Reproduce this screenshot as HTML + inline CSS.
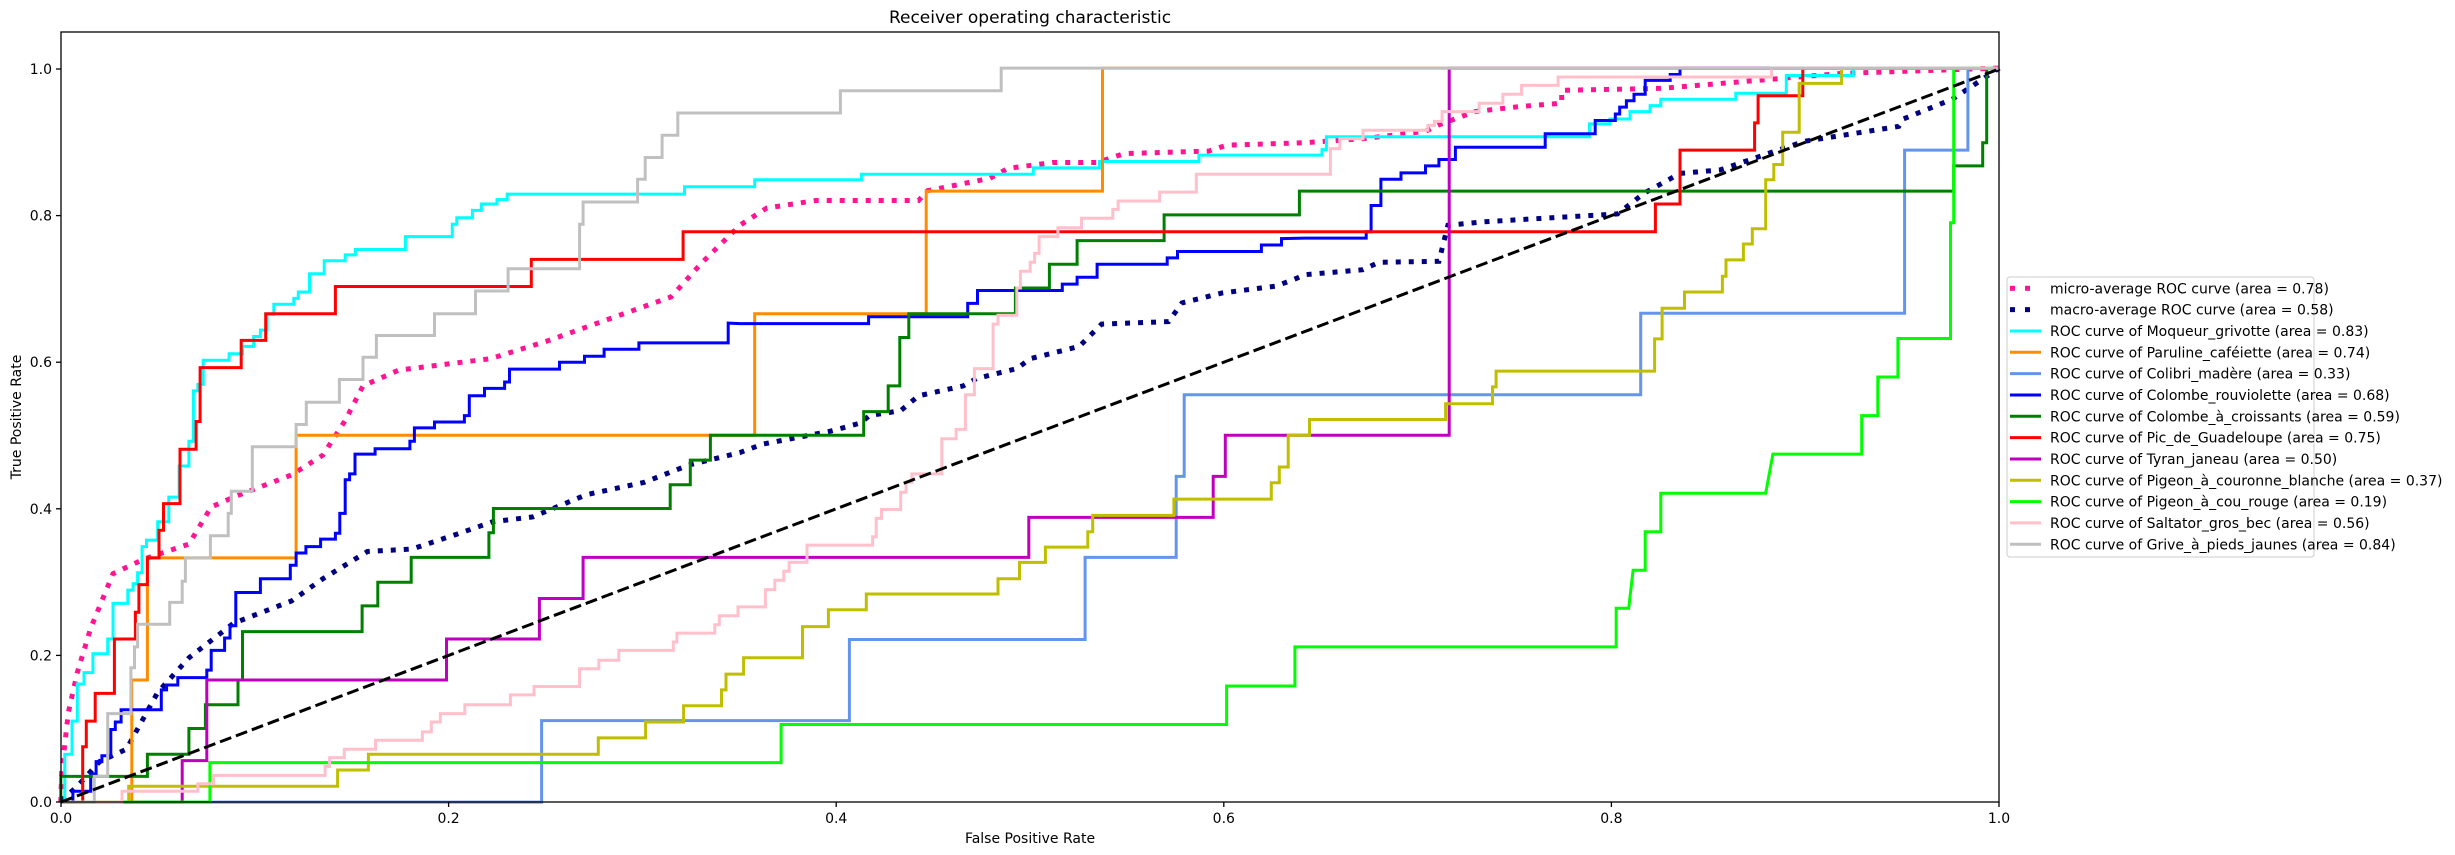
<!DOCTYPE html>
<html><head><meta charset="utf-8"><style>
html,body{margin:0;padding:0;background:#fff;}
svg{display:block;font-family:"DejaVu Sans","Liberation Sans",sans-serif;}
</style></head><body>
<svg id="s" width="2455" height="855" viewBox="0 0 2455 855" xmlns="http://www.w3.org/2000/svg">
<rect width="2455" height="855" fill="#fff"/>
<g id="lines" fill="none" stroke-linejoin="miter"></g>
<line x1="61" y1="802" x2="1999" y2="69" stroke="#000" stroke-width="3" stroke-dasharray="12 5"/>
<rect x="61" y="32" width="1938" height="770" fill="none" stroke="#000" stroke-width="1.3"/>
<g id="ticks" stroke="#000" stroke-width="1.3"></g>
<g id="tl" font-size="14" fill="#000"></g>
<text x="1030" y="23" font-size="17" text-anchor="middle">Receiver operating characteristic</text>
<text x="1030" y="843" font-size="14" text-anchor="middle">False Positive Rate</text>
<text transform="translate(21,417) rotate(-90)" font-size="14" text-anchor="middle">True Positive Rate</text>
<rect x="2007" y="277" width="307" height="280" rx="3" fill="#fff" fill-opacity="0.8" stroke="#cccccc" stroke-width="1"/>
<g id="leg" font-size="14"></g>
</svg>
<script>
const OX=[55,740,1305];
function conv(segs){const pts=[];for(const [z,s] of segs){s.trim().split(/\s+/).forEach(p=>{const [a,b]=p.split(',').map(Number);pts.push((OX[z]+a/2.24).toFixed(1)+','+(30+b/2.023).toFixed(1));});}return pts.join(' ');}
const C={
micro:[[0,"13,1562 15,1500 30,1380 50,1300 80,1210 130,1100 200,1070 300,1040 350,965 400,945 530,900 600,860 650,790 690,720 770,688 975,665 1100,630 1380,540 1450,470 1534,395"],[1,"60,360 170,345 400,345 420,325 560,300 600,280 700,268 800,268 860,250 1050,245 1090,233"],[2,"0,228 130,220 270,205 300,192 380,165 480,155 575,148 575,122 800,118 1000,103 1200,88 1555,77"]],
macro:[[0,"13,1560 50,1530 100,1480 160,1455 230,1340 300,1270 400,1200 530,1155 600,1110 700,1055 800,1050 900,1020 980,995 1070,985 1190,940 1320,915 1420,880 1534,855"],[1,"50,838 200,812 230,805 270,795 290,780 360,770 400,740 500,720 530,705 620,685 650,665 760,640 810,595 960,590 990,552 1080,532 1200,518 1240,505"],[2,"0,495 130,485 165,470 300,468 320,395 400,388 700,372 760,330 840,290 930,283 1060,243 1120,225 1330,195 1340,180 1450,140 1555,77"]],
cyan:[[0,"13,1562 22,1562 22,1465 38,1465 38,1398 50,1398 50,1323 65,1323 65,1300 85,1300 85,1262 118,1262 118,1232 130,1232 130,1160 163,1160 163,1133 175,1133 175,1120 185,1120 185,1098 195,1098 195,1045 205,1045 205,1032 230,1032 230,995 255,995 255,945 278,945 278,882 300,882 300,832 310,832 310,730 320,730 320,717 332,717 332,668 390,668 390,655 420,655 420,640 445,640 445,620 460,620 460,607 475,607 475,575 490,575 490,555 535,555 535,543 545,543 545,530 570,530 570,493 603,493 603,467 650,467 650,455 673,455 673,444 785,444 785,418 890,418 890,393 900,393 900,380 935,380 935,365 955,365 955,352 990,352 990,343 1013,343 1013,332 1410,332 1410,317"],[1,"0,317 33,317 33,303 272,303 272,292 657,292 657,279 805,279 805,266 1028,266 1028,253"],[2,"0,253 38,253 38,242 48,242 48,216 637,216 637,190 683,190 683,180 728,180 728,165 773,165 773,153 797,153 797,140 965,140 965,128 1078,128 1078,92 1228,92 1228,77 1555,77"]],
orange:[[0,"13,1562 172,1562 172,1315 207,1315 207,1068 540,1068 540,820"],[1,"0,820 33,820 33,574 417,574 417,326 812,326 812,77 1568,77"],[2,"1555,77"]],
corn:[[0,"13,1562 1090,1562 1090,1397"],[1,"0,1397 245,1397 245,1233 773,1233 773,1067 977,1067 977,903 995,903 995,738"],[2,"752,738 752,573 1343,573 1343,243 1485,243 1485,77 1555,77"]],
blue:[[0,"13,1562 40,1562 40,1540 80,1540 80,1505 92,1505 92,1480 105,1480 105,1468 125,1468 125,1415 135,1415 135,1400 148,1400 148,1375 238,1375 238,1335 250,1335 250,1325 275,1325 275,1310 340,1310 340,1295 350,1295 350,1255 380,1255 380,1230 392,1230 392,1205 405,1205 405,1138 460,1138 460,1110 527,1110 527,1083 540,1083 540,1058 562,1058 562,1045 595,1045 595,1030 628,1030 628,1018 638,1018 638,978 650,978 650,910 660,910 660,898 672,898 672,858 717,858 717,847 795,847 795,832 805,832 805,805 850,805 850,793 917,793 917,780 928,780 928,740 962,740 962,725 1007,725 1007,712 1018,712 1018,686 1130,686 1130,672 1186,672 1186,660 1230,660 1230,646 1308,646 1308,633 1508,633 1508,593"],[1,"0,594 288,594 288,580 510,580 510,553 532,553 532,527 722,527 722,514 755,514 755,500 800,500 800,474 957,474 957,461 980,461 980,448 1168,448 1168,435 1213,435 1213,422"],[2,"0,421 137,421 137,408 148,408 148,355 170,355 170,302 215,302 215,289 270,289 270,275 300,275 300,262 337,262 337,237 538,237 538,210 650,210 650,183 695,183 695,170 705,170 705,156 720,156 720,143 737,143 737,130 762,130 762,102 818,102 818,90 840,90 840,77 1555,77"]],
green:[[0,"13,1562 13,1510 207,1510 207,1465 300,1465 300,1413 337,1413 337,1365 410,1365 410,1315 420,1315 420,1217 688,1217 688,1165 723,1165 723,1117 798,1117 798,1067 972,1067 972,1017 982,1017 982,968 1378,968 1378,920 1423,920 1423,870 1468,870 1468,820"],[1,"0,820 277,820 277,772 332,772 332,720 358,720 358,622 378,622 378,574 617,574 617,522 693,522 693,474 755,474 755,426 950,426 950,374 1253,374 1253,326"],[2,"1453,326 1453,275 1518,275 1518,228 1527,228 1527,77 1555,77"]],
red:[[0,"13,1562 62,1562 62,1450 70,1450 70,1398 90,1398 90,1342 133,1342 133,1232 180,1232 180,1178 188,1178 188,1122 207,1122 207,1068 233,1068 233,1012 243,1012 243,958 280,958 280,848 316,848 316,792 325,792 325,683 417,683 417,628 472,628 472,574 628,574 628,519 1067,519 1067,464 1407,464 1407,408"],[2,"785,408 785,352 840,352 840,243 1007,243 1007,188 1015,188 1015,133 1115,133 1115,77 1555,77"]],
mag:[[0,"13,1562 285,1562 285,1478 340,1478 340,1315 877,1315 877,1232 1085,1232 1085,1150 1183,1150 1183,1067"],[1,"0,1067 647,1067 647,986 1060,986 1060,903 1087,903 1087,820"],[2,"323,820 323,77 1555,77"]],
olive:[[0,"13,1562 165,1562 165,1530 633,1530 633,1497 702,1497 702,1465 1217,1465 1217,1432 1323,1432 1323,1400 1408,1400 1408,1367 1493,1367 1493,1335 1503,1335 1503,1303"],[1,"0,1303 8,1303 8,1270 140,1270 140,1207 198,1207 198,1173 283,1173 283,1141 578,1141 578,1110 626,1110 626,1077 684,1077 684,1046 779,1046 779,1015 790,1015 790,982 972,982 972,949 1190,949 1190,916 1208,916 1208,884 1228,884 1228,820"],[2,"0,820 10,820 10,788 315,788 315,756 420,756 420,722 428,722 428,690 783,690 783,625 800,625 800,563 850,563 850,530 935,530 935,498 943,498 943,465 982,465 982,433 1002,433 1002,402 1032,402 1032,303 1050,303 1050,272 1070,272 1070,207 1107,207 1107,108 1202,108 1202,77 1555,77"]],
lime:[[0,"13,1562 347,1562 347,1482"],[1,"0,1482 92,1482 92,1405 1090,1405 1090,1327 1243,1327 1243,1248"],[2,"697,1248 697,1170 725,1170 735,1093 762,1093 762,1015 797,1015 797,937 1032,937 1048,858 1247,858 1247,780 1283,780 1283,702 1328,702 1328,624 1446,624 1446,390 1453,390 1453,77 1555,77"]],
pink:[[0,"13,1562 150,1562 150,1540 320,1540 320,1525 355,1525 355,1508 605,1508 605,1490 615,1490 615,1472 648,1472 648,1455 718,1455 718,1437 823,1437 823,1420 843,1420 843,1400 863,1400 863,1383 918,1383 918,1365 1020,1365 1020,1345 1073,1345 1073,1328 1175,1328 1175,1292 1218,1292 1218,1275 1263,1275 1263,1255 1385,1255 1385,1238 1393,1238 1393,1220 1478,1220 1478,1203 1488,1203 1488,1185 1530,1185 1530,1167"],[1,"0,1167 57,1167 57,1132 78,1132 78,1113 98,1113 98,1095 110,1095 110,1077 150,1077 150,1042 297,1042 297,1025 305,1025 305,988 317,988 317,970 360,970 360,935 372,935 372,915 385,915 385,898 452,898 452,827 484,827 484,808 505,808 505,738 525,738 525,685 567,685 567,595 578,595 578,577 620,577 620,522 628,522 628,488 650,488 650,470 660,470 660,452 670,452 670,418 712,418 712,400 765,400 765,381 835,381 835,363 847,363 847,346 940,346 940,328 1022,328 1022,292"],[2,"0,292 57,292 57,240 78,240 78,220 130,220 130,203 275,203 275,193 290,193 290,185 307,185 307,165 390,165 390,148 443,148 443,130 485,130 485,112 567,112 567,95 1045,95 1045,77 1555,77"]],
gray:[[0,"13,1562 88,1562 88,1510 118,1510 118,1383 170,1383 170,1290 178,1290 178,1248 185,1248 185,1202 257,1202 257,1158 285,1158 285,1115 292,1115 292,1068 348,1068 348,1023 388,1023 388,978 395,978 395,933 442,933 442,843 540,843 540,798 563,798 563,753 637,753 637,707 690,707 690,662 720,662 720,618 850,618 850,574 942,574 942,528 1015,528 1015,483 1175,483 1175,393 1183,393 1183,348 1305,348 1305,302 1322,302 1322,258 1360,258 1360,213 1395,213 1395,168"],[1,"225,168 225,123 585,123 585,77"],[2,"1555,77"]]
};
const L=document.getElementById('lines');
function add(k,col,w,dash){const p=document.createElementNS('http://www.w3.org/2000/svg','polyline');p.setAttribute('points',conv(C[k]));p.setAttribute('stroke',col);p.setAttribute('stroke-width',w);if(dash)p.setAttribute('stroke-dasharray',dash);L.appendChild(p);}
add('micro','#FF1493',5,'5 8');add('macro','#000080',5,'5 8');
add('cyan','#00FFFF',3);add('orange','#FF8C00',3);add('corn','#6495ED',3);add('blue','#0000FF',3);add('green','#008000',3);add('red','#FF0000',3);add('mag','#BF00BF',3);add('olive','#BFBF00',3);add('lime','#00FF00',3);add('pink','#FFC0CB',3);add('gray','#C0C0C0',3);
const T=document.getElementById('ticks'),TL=document.getElementById('tl');let h='',t='';
for(let i=0;i<=5;i++){const v=(i*0.2).toFixed(1);const x=61+i*387.6;h+=`<line x1="${x}" y1="802" x2="${x}" y2="807"/>`;t+=`<text x="${x}" y="823" text-anchor="middle">${v}</text>`;const y=802-i*0.2*733;h+=`<line x1="56" y1="${y}" x2="61" y2="${y}"/>`;t+=`<text x="52" y="${y+5}" text-anchor="end">${v}</text>`;}
T.innerHTML=h;TL.innerHTML=t;
const items=[['#FF1493','micro-average ROC curve (area = 0.78)',1],['#000080','macro-average ROC curve (area = 0.58)',1],['#00FFFF','ROC curve of Moqueur_grivotte (area = 0.83)'],['#FF8C00','ROC curve of Paruline_caféiette (area = 0.74)'],['#6495ED','ROC curve of Colibri_madère (area = 0.33)'],['#0000FF','ROC curve of Colombe_rouviolette (area = 0.68)'],['#008000','ROC curve of Colombe_à_croissants (area = 0.59)'],['#FF0000','ROC curve of Pic_de_Guadeloupe (area = 0.75)'],['#BF00BF','ROC curve of Tyran_janeau (area = 0.50)'],['#BFBF00','ROC curve of Pigeon_à_couronne_blanche (area = 0.37)'],['#00FF00','ROC curve of Pigeon_à_cou_rouge (area = 0.19)'],['#FFC0CB','ROC curve of Saltator_gros_bec (area = 0.56)'],['#C0C0C0','ROC curve of Grive_à_pieds_jaunes (area = 0.84)']];
let g='';items.forEach((it,i)=>{const y=288.3+i*21.33;if(it[2]){g+=`<rect x="2010" y="${y-2.5}" width="5" height="5" fill="${it[0]}"/><rect x="2025" y="${y-2.5}" width="5" height="5" fill="${it[0]}"/>`;}else{g+=`<line x1="2010" y1="${y}" x2="2041" y2="${y}" stroke="${it[0]}" stroke-width="3"/>`;}g+=`<text x="2050" y="${y+5}">${it[1]}</text>`;});
document.getElementById('leg').innerHTML=g;
</script>
</body></html>
